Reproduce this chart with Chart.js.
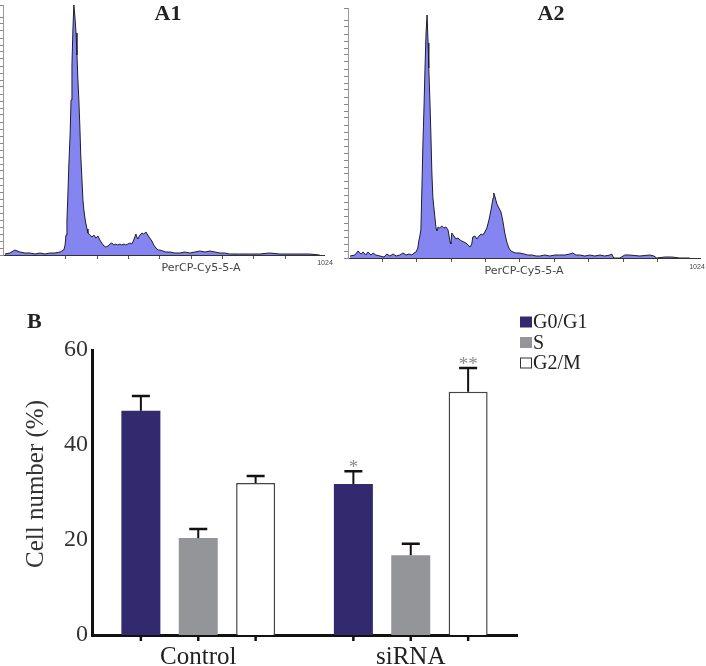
<!DOCTYPE html>
<html>
<head>
<meta charset="utf-8">
<script src="https://cdn.jsdelivr.net/npm/chart.js@4.4.1/dist/chart.umd.min.js"></script>
<style>
  body { margin: 0; background: #fff; }
  #wrap { position: relative; width: 706px; height: 666px; }
  canvas { position: absolute; }
</style>
</head>
<body>
<div id="wrap">
  <canvas id="histA1" width="340" height="280" style="left:0;top:0"></canvas>
  <canvas id="histA2" width="366" height="280" style="left:340px;top:0"></canvas>
  <canvas id="barsB" width="706" height="386" style="left:0;top:280px"></canvas>
</div>
<script>
// histograma A1 (control) - canal PerCP-Cy5-5-A vs eventos
const a1Channel = [6,22,38,54,70,86,102,118,134,150,166,182,188,194,198,201,204,207,210,214,217,220,223,226,229,233,236,239,242,245,248,252,255,258,261,264,268,271,277,284,290,296,303,309,315,322,328,335,341,347,354,360,366,373,379,386,392,398,405,411,417,424,427,430,437,443,449,456,462,468,475,481,488,494,500,510,519,532,548,564,580,596,612,628,644,660,676,692,707,723,755,787,819,851,883,915,947,978,1010];
const a1Count = [1,2,5,3,2,2,1,2,1,2,2,3,4,5,10,20,35,60,90,120,155,190,225,250,240,222,200,175,155,130,100,75,55,45,38,32,26,22,20,18,20,17,19,15,12,9,8,9,11,12,10,11,10,11,10,11,10,11,12,11,15,21,18,16,20,22,21,23,20,17,14,10,7,5,5,4,3,3,2,2,3,2,3,4,3,4,3,2,2,1,1,1,1,2,1,1,1,1,0];

// histograma A2 (siRNA)
const a2Channel = [6,20,29,38,44,52,58,67,73,81,93,105,113,122,131,140,151,160,169,177,186,192,198,203,206,209,212,215,218,221,224,227,230,233,235,238,241,244,247,250,253,256,259,262,267,273,279,285,291,297,299,302,308,314,320,326,331,337,343,349,355,360,363,369,375,381,387,392,398,404,410,416,422,424,427,433,439,445,451,456,462,468,474,480,488,500,512,523,535,547,558,573,587,602,616,631,645,654,663,674,689,703,718,733,747,762,767,773,791,805,820,849,878,890,898,922,942,965,994];
const a2Count = [2,3,7,4,6,3,6,3,5,3,2,1,4,2,4,2,3,5,3,4,3,5,6,10,17,22,28,70,115,150,190,225,243,215,190,160,125,85,60,50,40,30,27,31,30,32,30,31,28,16,14,25,22,19,20,18,17,16,15,13,11,14,21,22,19,22,24,23,26,30,38,48,60,65,62,54,50,46,36,25,16,10,7,6,5,5,4,3,3,2,2,3,2,3,3,3,4,5,3,3,2,3,2,3,2,3,4,0,0,3,3,2,3,2,0,1,1,0,0];

// grafico B - ciclo celular
const grupos = ['Control', 'siRNA'];
const fases = ['G0/G1', 'S', 'G2/M'];
const g0g1 = [47.2, 31.8];
const g0g1Err = [3.1, 2.7];
const g0g1Sig = ['', '*'];
const faseS = [20.4, 16.8];
const faseSErr = [1.9, 2.4];
const faseSSig = ['', ''];
const g2m = [32.0, 51.2];
const g2mErr = [1.5, 5.0];
const g2mSig = ['', '**'];
const yTicksB = [0, 20, 40, 60];

const serif = '"Liberation Serif", "Times New Roman", serif';
const sans = '"DejaVu Sans", Verdana, sans-serif';

// textos sueltos dibujados en el canvas
const textos = {
  id: 'textos',
  afterDraw(chart, args, opts) {
    const ctx = chart.ctx;
    (opts.items || []).forEach((t) => {
      ctx.save();
      ctx.font = t.font;
      ctx.fillStyle = t.color || '#000';
      ctx.textAlign = t.align || 'center';
      ctx.textBaseline = 'alphabetic';
      ctx.translate(t.x, t.y);
      if (t.rot) ctx.rotate(t.rot);
      ctx.fillText(t.text, 0, 0);
      ctx.restore();
    });
  }
};
Chart.register(textos);

const histograma = (id, channels, counts, cfg) => {
  const puntos = channels.map((c, i) => ({ x: c, y: counts[i] }));
  return new Chart(document.getElementById(id), {
    type: 'line',
    data: {
      datasets: [{
        data: puntos,
        borderColor: '#1e1e2a',
        borderWidth: 1,
        backgroundColor: '#8585f2',
        fill: 'origin',
        pointRadius: 0,
        tension: 0
      }]
    },
    options: {
      responsive: false,
      animation: false,
      layout: { padding: cfg.padding },
      plugins: {
        legend: { display: false },
        tooltip: { enabled: false },
        textos: { items: cfg.textos }
      },
      scales: {
        x: {
          type: 'linear',
          min: 0,
          max: 1024,
          ticks: { display: false, stepSize: 100 },
          afterBuildTicks: (s) => {
            s.ticks = s.ticks.filter((t) => t.value >= cfg.firstTick && t.value <= 1000);
          },
          afterFit: (s) => { s.height = cfg.xHeight; },
          grid: { drawOnChartArea: false, drawTicks: true, tickLength: 4, color: '#555' },
          border: { color: '#333', width: 1 }
        },
        y: {
          min: 0,
          max: 250,
          ticks: { display: false, stepSize: 7 },
          afterFit: (s) => { s.width = cfg.yWidth; },
          grid: { drawOnChartArea: false, drawTicks: true, tickLength: 4, color: '#888' },
          border: { color: '#999', width: 1 }
        }
      }
    }
  });
};

histograma('histA1', a1Channel, a1Count, {
  padding: { top: 5, right: 16, left: 0, bottom: 0 },
  xHeight: 25,
  yWidth: 3,
  firstTick: 200,
  textos: [
    { text: 'A1', x: 168, y: 20, font: 'bold 22px ' + serif, color: '#222' },
    { text: 'PerCP-Cy5-5-A', x: 201, y: 271, font: '11px ' + sans, color: '#444' },
    { text: '1024', x: 325, y: 265, font: '7px "Liberation Sans", sans-serif', color: '#444' }
  ]
});

histograma('histA2', a2Channel, a2Count, {
  padding: { top: 8, right: 6, left: 2, bottom: 0 },
  xHeight: 22,
  yWidth: 6,
  firstTick: 100,
  textos: [
    { text: 'A2', x: 211, y: 20, font: 'bold 22px ' + serif, color: '#222' },
    { text: 'PerCP-Cy5-5-A', x: 184, y: 274, font: '11px ' + sans, color: '#444' },
    { text: '1024', x: 357, y: 269, font: '7px "Liberation Sans", sans-serif', color: '#444' }
  ]
});

// barras de error, marcas del eje, asteriscos y leyenda
const extrasB = {
  id: 'extrasB',
  afterDatasetsDraw(chart) {
    const ctx = chart.ctx;
    const yS = chart.scales.y;
    chart.data.datasets.forEach((ds, i) => {
      chart.getDatasetMeta(i).data.forEach((bar, j) => {
        const tope = yS.getPixelForValue(ds.data[j] + ds.errores[j]);
        ctx.save();
        ctx.strokeStyle = '#111';
        ctx.lineWidth = 2;
        ctx.beginPath();
        ctx.moveTo(bar.x, bar.y);
        ctx.lineTo(bar.x, tope);
        ctx.stroke();
        ctx.lineWidth = 2.5;
        ctx.beginPath();
        ctx.moveTo(bar.x - 9, tope);
        ctx.lineTo(bar.x + 9, tope);
        ctx.moveTo(bar.x, yS.bottom);
        ctx.lineTo(bar.x, yS.bottom + 6);
        ctx.stroke();
        if (ds.sig[j]) {
          ctx.fillStyle = '#8a8a8a';
          ctx.font = '19px ' + serif;
          ctx.textAlign = 'center';
          ctx.textBaseline = 'alphabetic';
          ctx.fillText(ds.sig[j], bar.x, tope + 2);
        }
        ctx.restore();
      });
    });
  },
  afterDraw(chart) {
    const ctx = chart.ctx;
    chart.data.datasets.forEach((ds, i) => {
      const base = 48 + i * 20.5;
      ctx.save();
      ctx.fillStyle = ds.backgroundColor;
      ctx.fillRect(520, base - 11.5, 12, 11);
      if (ds.borderWidth) {
        ctx.strokeStyle = '#333';
        ctx.lineWidth = 1;
        ctx.strokeRect(520.5, base - 11, 11, 10);
      }
      ctx.fillStyle = '#222';
      ctx.font = '20px ' + serif;
      ctx.textAlign = 'left';
      ctx.textBaseline = 'alphabetic';
      ctx.fillText(ds.label, 533, base);
      ctx.restore();
    });
  }
};

new Chart(document.getElementById('barsB'), {
  type: 'bar',
  data: {
    labels: grupos,
    datasets: [
      { label: fases[0], data: g0g1, errores: g0g1Err, sig: g0g1Sig, backgroundColor: '#33296e', borderWidth: 0 },
      { label: fases[1], data: faseS, errores: faseSErr, sig: faseSSig, backgroundColor: '#939598', borderWidth: 0 },
      { label: fases[2], data: g2m, errores: g2mErr, sig: g2mSig, backgroundColor: '#ffffff', borderColor: '#444', borderWidth: 1.5 }
    ]
  },
  options: {
    responsive: false,
    animation: false,
    categoryPercentage: 0.81,
    barPercentage: 0.68,
    layout: { padding: { top: 70, right: 189, left: 0, bottom: 0 } },
    plugins: {
      legend: { display: false },
      tooltip: { enabled: false },
      textos: {
        items: [
          { text: 'B', x: 27, y: 48, font: 'bold 22px ' + serif, color: '#222', align: 'left' },
          { text: 'Cell number (%)', x: 43, y: 204, font: '25px ' + serif, color: '#333', rot: -Math.PI / 2 }
        ]
      }
    },
    scales: {
      x: {
        z: 1,
        afterFit: (s) => { s.height = 31; },
        grid: { display: false, drawTicks: false },
        border: { color: '#111', width: 3 },
        ticks: { color: '#222', padding: 7, font: { family: serif, size: 25 } }
      },
      y: {
        min: 0,
        max: 60,
        afterFit: (s) => { s.width = 92; },
        afterBuildTicks: (s) => { s.ticks = yTicksB.map((v) => ({ value: v })); },
        grid: { display: false, drawTicks: false },
        border: { color: '#111', width: 3 },
        ticks: { color: '#333', padding: 4, font: { family: serif, size: 24 } }
      }
    }
  },
  plugins: [extrasB]
});
</script>
</body>
</html>
